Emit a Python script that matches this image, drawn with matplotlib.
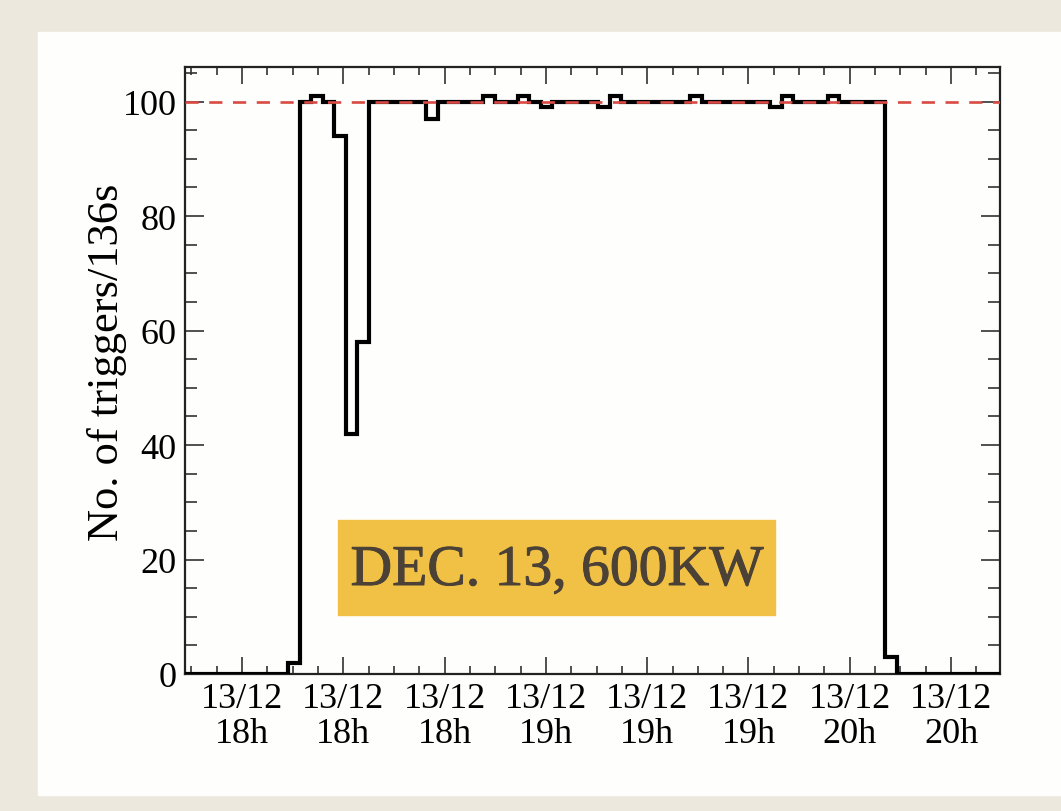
import numpy as np
import matplotlib.pyplot as plt
import matplotlib.patheffects as pe
from matplotlib.patches import Rectangle
from matplotlib.ticker import FixedLocator, MultipleLocator

# trigger counts per 136 s bin, 13 Dec
bin_width = 136
t_start = 17 * 3600 + 48 * 60 + 44   # seconds of day at left edge
counts = ([0] * 9 + [2, 100, 101, 100, 94, 42, 58]
          + [100] * 5 + [97] + [100] * 4 + [101, 100, 100, 101, 100, 99]
          + [100] * 4 + [99, 101] + [100] * 6 + [101] + [100] * 6
          + [99, 101, 100, 100, 100, 101] + [100] * 4 + [3] + [0] * 9)
nominal = 100
tick_hours = [18, 18, 18, 19, 19, 19, 20, 20]
tick_times = [18 * 3600 + 1200 * k for k in range(8)]
tick_labels = ['13/12\n%dh' % h for h in tick_hours]
label_text = 'DEC. 13, 600KW'

edges = t_start + bin_width * np.arange(len(counts) + 1)

plt.rcParams['font.family'] = ['Liberation Serif', 'DejaVu Serif']

fig = plt.figure(figsize=(10.61, 8.12), dpi=100)
fig.patch.set_facecolor('#ede8de')
fig.patches.append(Rectangle((38 / 1061, 16 / 812), 1, 763 / 812,
                             transform=fig.transFigure, color='#fefefc', zorder=-5))

ax = fig.add_axes([185 / 1061, 137 / 812, 815 / 1061, 607 / 812])
ax.set_facecolor('#fefefc')
ax.stairs(counts, edges, color='black', lw=3.0, zorder=3, baseline=None)
ax.axhline(nominal, color='#d94a44', lw=1.9, ls=(0, (5, 4)), zorder=4)

ax.set_xlim(edges[0], edges[-1])
ax.set_ylim(0, max(counts) * 1.05)

ax.xaxis.set_major_locator(FixedLocator(tick_times))
ax.set_xticklabels(tick_labels, linespacing=1.05)
ax.xaxis.set_minor_locator(MultipleLocator(300, offset=tick_times[0] % 300))
ax.yaxis.set_major_locator(MultipleLocator(20))
ax.yaxis.set_minor_locator(MultipleLocator(5))

ax.tick_params(which='both', direction='in', top=True, right=True,
               labelsize=26, colors='#333333', labelcolor='black', width=1.2)
ax.tick_params(axis='x', which='major', length=12, pad=6)
ax.tick_params(axis='x', which='minor', length=5.5)
ax.tick_params(axis='y', which='major', length=14, pad=6)
ax.tick_params(axis='y', which='minor', length=8.5)
for s in ax.spines.values():
    s.set_linewidth(1.6)
    s.set_color('#222222')

ax.set_ylabel('No. of triggers/136s', fontsize=32)
ax.yaxis.set_label_coords(-0.071, 0.515)

fig.patches.append(Rectangle((338 / 1061, (812 - 616) / 812), 437 / 1061, 95 / 812,
                             transform=fig.transFigure, color='#f0c144', zorder=5))
fig.text(557 / 1061, (812 - 572) / 812, label_text, fontsize=41.5, color='#4b4136',
         ha='center', va='center', zorder=6,
         path_effects=[pe.withStroke(linewidth=0.7, foreground='#4b4136')])

fig.savefig('out.png', dpi=100, facecolor=fig.get_facecolor())
